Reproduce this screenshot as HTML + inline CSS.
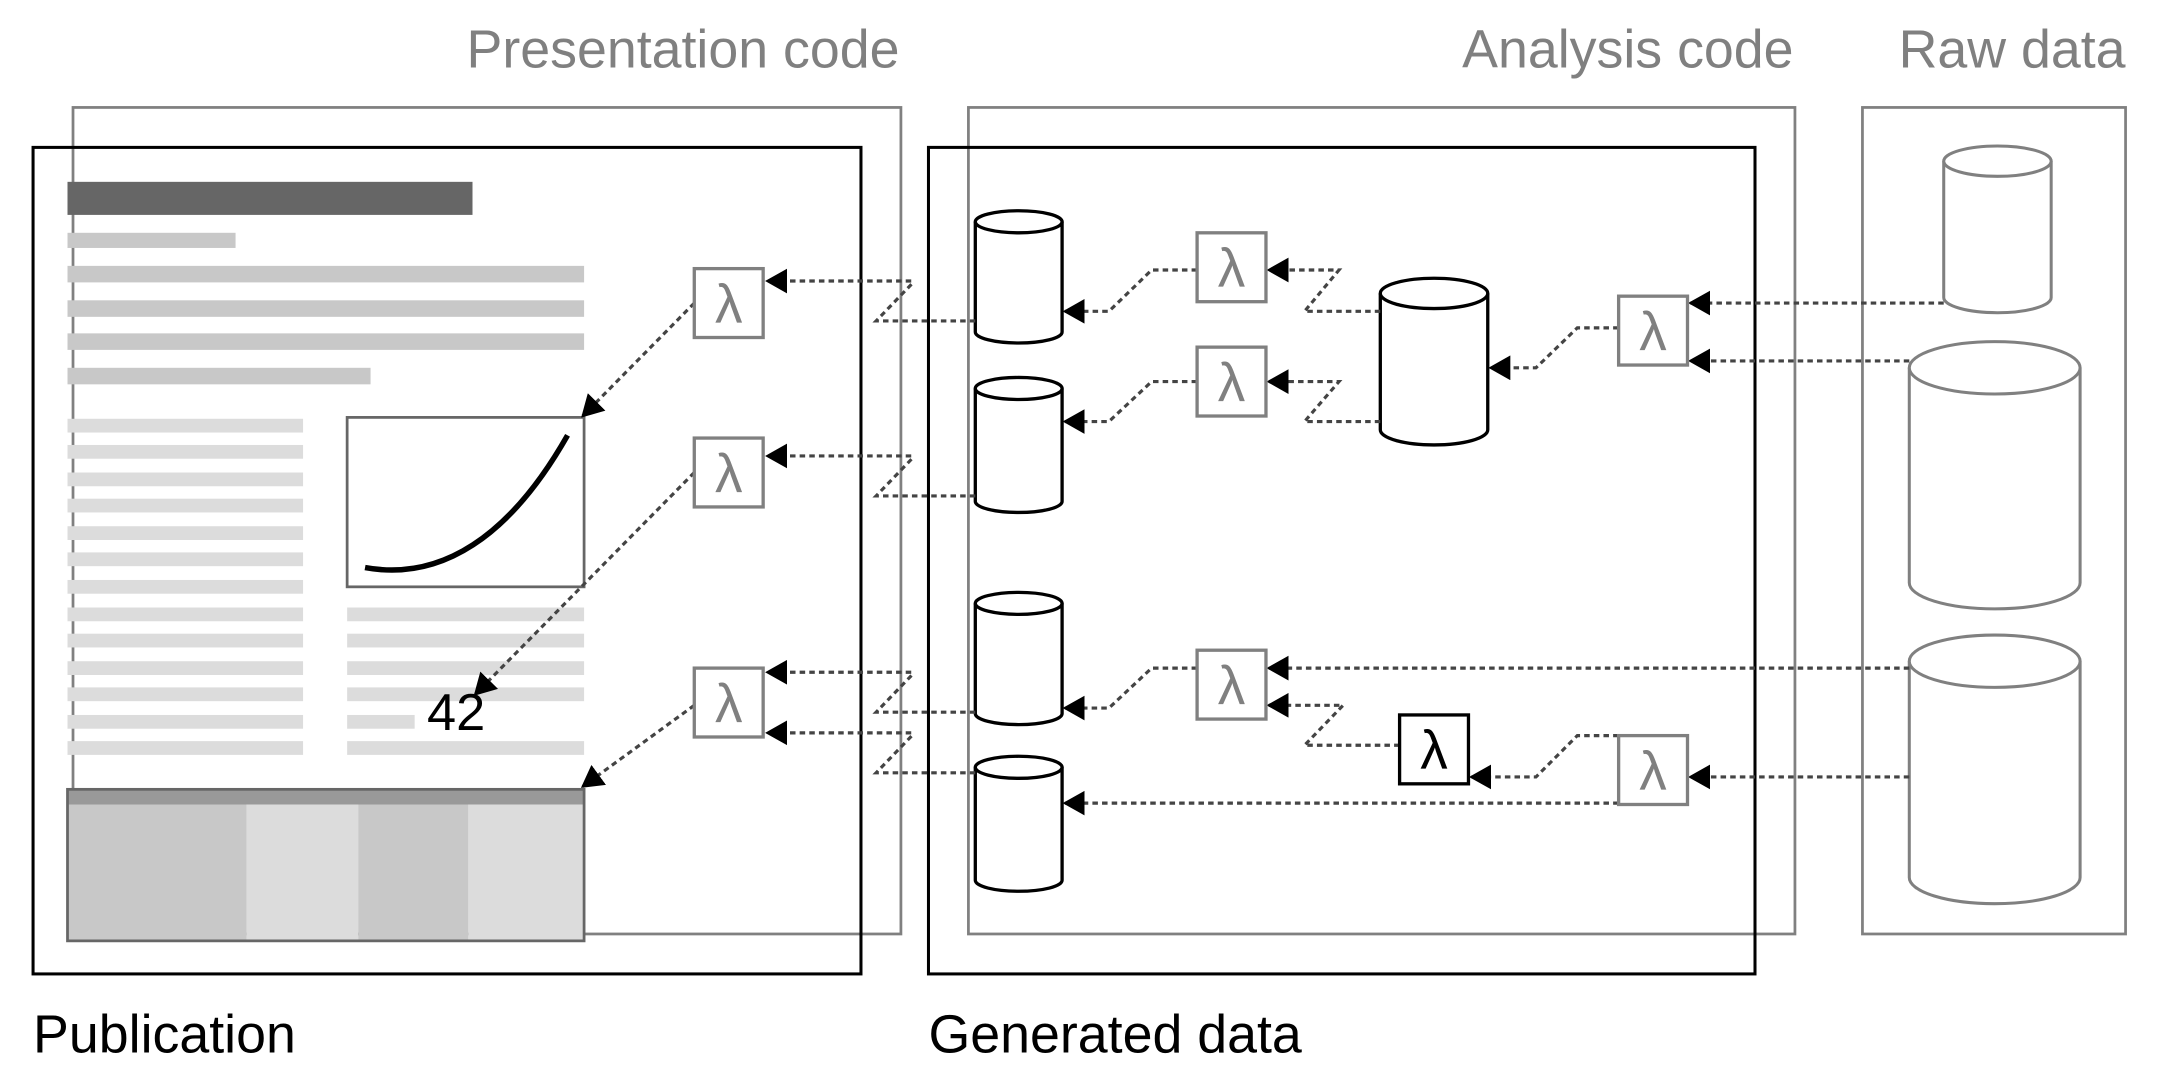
<!DOCTYPE html>
<html><head><meta charset="utf-8"><style>html,body{margin:0;padding:0;background:#fff}svg{display:block}</style></head>
<body>
<svg width="2160" height="1080" viewBox="0 0 1568 784" preserveAspectRatio="none" xmlns="http://www.w3.org/2000/svg" font-family="Liberation Sans, sans-serif">
<defs>
<marker id="b" viewBox="0 0 10 10" refX="9" refY="5" markerWidth="16" markerHeight="18" markerUnits="userSpaceOnUse" orient="auto" preserveAspectRatio="none"><path d="M0,0L10,5L0,10z" fill="#000"/></marker>
</defs>
<g fill="#808080" font-size="39" text-anchor="end">
<text x="653" y="49">Presentation code</text>
<text x="1302" y="49">Analysis code</text>
<text x="1543" y="49">Raw data</text>
</g>
<g font-size="39" fill="#000">
<text x="24" y="764">Publication</text>
<text x="674" y="764">Generated data</text>
</g>
<g fill="none" stroke="#808080" stroke-width="2">
<rect x="53" y="78" width="601" height="600"/>
<rect x="703" y="78" width="600" height="600"/>
<rect x="1352" y="78" width="191" height="600"/>
</g>
<rect x="24" y="107" width="601" height="600" fill="none" stroke="#000" stroke-width="2.2"/>
<rect x="49" y="132" width="294" height="24" fill="#666"/>
<g fill="#c8c8c8">
<rect x="49" y="169" width="122" height="11"/>
<rect x="49" y="193" width="375" height="12"/>
<rect x="49" y="218" width="375" height="12"/>
<rect x="49" y="242" width="375" height="12"/>
<rect x="49" y="267" width="220" height="12"/>
</g>
<g fill="#dcdcdc">
<rect x="49" y="304" width="171" height="10"/><rect x="49" y="323" width="171" height="10"/>
<rect x="49" y="343" width="171" height="10"/><rect x="49" y="362" width="171" height="10"/>
<rect x="49" y="382" width="171" height="10"/><rect x="49" y="401" width="171" height="10"/>
<rect x="49" y="421" width="171" height="10"/><rect x="49" y="441" width="171" height="10"/>
<rect x="49" y="460" width="171" height="10"/><rect x="49" y="480" width="171" height="10"/>
<rect x="49" y="499" width="171" height="10"/><rect x="49" y="519" width="171" height="10"/>
<rect x="49" y="538" width="171" height="10"/>
<rect x="252" y="441" width="172" height="10"/><rect x="252" y="460" width="172" height="10"/>
<rect x="252" y="480" width="172" height="10"/><rect x="252" y="499" width="172" height="10"/>
<rect x="252" y="519" width="49" height="10"/><rect x="252" y="538" width="172" height="10"/>
</g>
<rect x="252" y="303" width="172" height="123" fill="#fff" stroke="#666" stroke-width="2"/>
<path d="M265,412 C320,422 370,390 412,316" fill="none" stroke="#000" stroke-width="4"/>
<text x="310" y="530" font-size="38" fill="#000">42</text>
<g>
<rect x="49" y="573" width="130" height="110" fill="#c8c8c8"/>
<rect x="179" y="573" width="81" height="110" fill="#dcdcdc"/>
<rect x="260" y="573" width="80" height="110" fill="#c8c8c8"/>
<rect x="340" y="573" width="84" height="110" fill="#dcdcdc"/>
<rect x="49" y="573" width="375" height="11" fill="#999"/>
<rect x="49" y="573" width="375" height="110" fill="none" stroke="#666" stroke-width="2"/>
</g>
<rect x="674" y="107" width="600" height="600" fill="none" stroke="#000" stroke-width="2.2"/>
<g fill="#fff" stroke="#000" stroke-width="2.4">
<path d="M708,161 V241 A31.5,8 0 0 0 771,241 V161"/><ellipse cx="739.5" cy="161" rx="31.5" ry="8"/>
<path d="M708,282 V364 A31.5,8 0 0 0 771,364 V282"/><ellipse cx="739.5" cy="282" rx="31.5" ry="8"/>
<path d="M708,438 V518 A31.5,8 0 0 0 771,518 V438"/><ellipse cx="739.5" cy="438" rx="31.5" ry="8"/>
<path d="M708,557 V639 A31.5,8 0 0 0 771,639 V557"/><ellipse cx="739.5" cy="557" rx="31.5" ry="8"/>
<path d="M1002,213 V312 A39,11 0 0 0 1080,312 V213"/><ellipse cx="1041" cy="213" rx="39" ry="11"/>
</g>
<g fill="#fff" stroke="#808080" stroke-width="2.2">
<path d="M1411,117 V216 A39,11 0 0 0 1489,216 V117"/><ellipse cx="1450" cy="117" rx="39" ry="11"/>
<path d="M1386,267 V423 A62,19 0 0 0 1510,423 V267"/><ellipse cx="1448" cy="267" rx="62" ry="19"/>
<path d="M1386,480 V637 A62,19 0 0 0 1510,637 V480"/><ellipse cx="1448" cy="480" rx="62" ry="19"/>
</g>
<g fill="none" stroke="#444" stroke-width="2.3" stroke-dasharray="4 3">
<path d="M708,233 H636 L662,206 V204 H557" marker-end="url(#b)"/>
<path d="M708,360 H636 L662,333 V331 H557" marker-end="url(#b)"/>
<path d="M708,517 H636 L662,490 V488 H557" marker-end="url(#b)"/>
<path d="M708,561 H636 L662,534 V532 H557" marker-end="url(#b)"/>
<path d="M504,220 L423,302" marker-end="url(#b)"/>
<path d="M504,343 L345,504" marker-end="url(#b)"/>
<path d="M504,512 L423,571" marker-end="url(#b)"/>
<path d="M1002,226 H947 L972,196 H921" marker-end="url(#b)"/>
<path d="M869,196 H836 L805,226 H773" marker-end="url(#b)"/>
<path d="M1002,306 H947 L972,277 H921" marker-end="url(#b)"/>
<path d="M869,277 H836 L805,306 H773" marker-end="url(#b)"/>
<path d="M1175,238 H1145 L1115,267 H1082" marker-end="url(#b)"/>
<path d="M1411,220 H1227" marker-end="url(#b)"/>
<path d="M1386,262 H1227" marker-end="url(#b)"/>
<path d="M1386,485 H921" marker-end="url(#b)"/>
<path d="M1016,541 H947 L975,512 H921" marker-end="url(#b)"/>
<path d="M869,485 H836 L805,514 H773" marker-end="url(#b)"/>
<path d="M1175,534 H1145 L1115,564 H1068" marker-end="url(#b)"/>
<path d="M1386,564 H1227" marker-end="url(#b)"/>
<path d="M1175,583 H773" marker-end="url(#b)"/>
</g>
<g fill="#fff" stroke="#808080" stroke-width="2.4">
<rect x="504" y="195" width="50" height="50"/>
<rect x="504" y="318" width="50" height="50"/>
<rect x="504" y="485" width="50" height="50"/>
<rect x="869" y="169" width="50" height="50"/>
<rect x="869" y="252" width="50" height="50"/>
<rect x="869" y="472" width="50" height="50"/>
<rect x="1175" y="215" width="50" height="50"/>
<rect x="1175" y="534" width="50" height="50"/>
</g>
<rect x="1016" y="519" width="50" height="50" fill="#fff" stroke="#000" stroke-width="2.4"/>
<g font-size="40" fill="#808080" text-anchor="middle">
<text x="529" y="234">λ</text>
<text x="529" y="357">λ</text>
<text x="529" y="524">λ</text>
<text x="894" y="208">λ</text>
<text x="894" y="291">λ</text>
<text x="894" y="511">λ</text>
<text x="1200" y="254">λ</text>
<text x="1200" y="573">λ</text>
</g>
<text x="1041" y="558" font-size="40" fill="#000" text-anchor="middle">λ</text>
</svg>
</body></html>
